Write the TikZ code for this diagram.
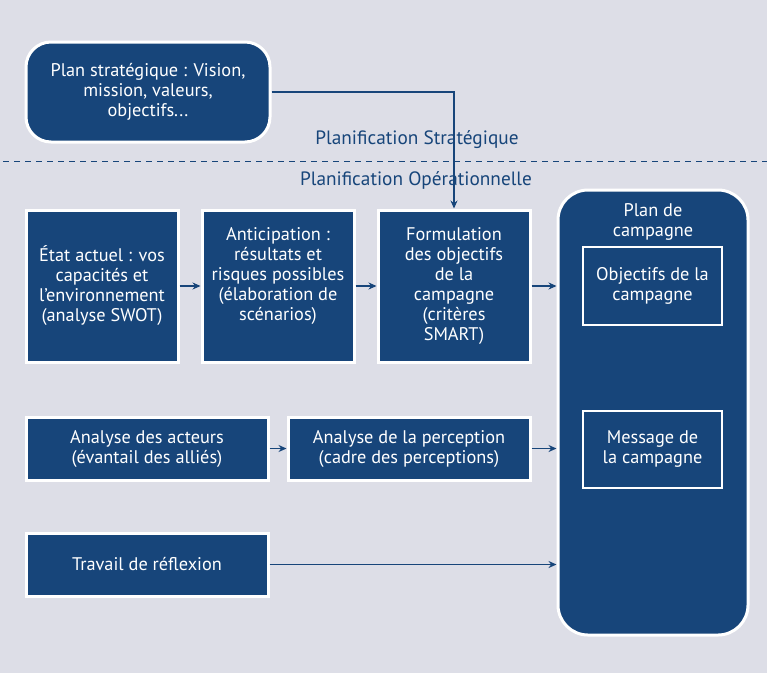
\documentclass[tikz,border=0pt]{standalone}
\usepackage{fontspec}
\setmainfont{PT Sans}
\usetikzlibrary{positioning,arrows.meta}

\definecolor{navycol}{RGB}{23,69,122}
\definecolor{backcol}{RGB}{221,222,231}

\tikzset{
  boxstyle/.style={draw=white, line width=3pt, fill=navycol, text=white, align=center,
    inner sep=2pt, font=\fontsize{18.3}{20}\selectfont},
  innerbox/.style={boxstyle, line width=2pt},
  zonetext/.style={text=navycol, font=\fontsize{19.3}{20}\selectfont},
  link/.style={draw=navycol, line width=1.4pt, -{Stealth[length=8pt,width=7pt]}}
}

\begin{document}
\begin{tikzpicture}[x=1pt,y=-1pt]
\useasboundingbox (0,0) rectangle (767,673);
\fill[backcol] (0,0) rectangle (767,673);

% strategic level
\node[boxstyle, rounded corners=25pt, minimum width=244pt, minimum height=100pt] (strat) at (148,92)
  {Plan stratégique : Vision,\\ mission, valeurs,\\ objectifs...};
\node[zonetext] (stratlabel) at (417,140) {Planification Stratégique};
\coordinate (dashL) at (3,161);
\coordinate (dashR) at (767,161);
\draw[navycol, line width=1pt, dash pattern=on 6pt off 5pt] (dashL) -- (dashR);
\node[zonetext] (operlabel) at (416,180) {Planification Opérationnelle};

% campaign plan
\node[boxstyle, rounded corners=30pt, minimum width=190pt, minimum height=445pt] (plan) at (653,412.5) {};
\node[text=white, align=center, font=\fontsize{18.3}{20}\selectfont] (plantitle) at (653,222) {Plan de\\ campagne};
\node[innerbox, minimum width=139pt, minimum height=78pt] (objectifs) at (652.5,286) {Objectifs de la\\ campagne};
\node[innerbox, minimum width=139pt, minimum height=77pt] (message) at (652.5,449.5) {Message de\\ la campagne};

% first row
\node[boxstyle, minimum width=152pt, minimum height=152pt] (etat) at (102,286)
  {État actuel : vos\\ capacités et\\ l'environnement\\ (analyse SWOT)};
\node[boxstyle, minimum width=152pt, minimum height=152pt, text depth=25pt] (antic) at (278,286)
  {Anticipation :\\ résultats et\\ risques possibles\\ (élaboration de\\ scénarios)};
\node[boxstyle, minimum width=152pt, minimum height=152pt] (formul) at (454,286)
  {Formulation\\ des objectifs\\ de la\\ campagne\\ (critères\\ SMART)};

% second and third rows
\node[boxstyle, minimum width=242pt, minimum height=63pt] (acteurs) at (147,448.5)
  {Analyse des acteurs\\ (évantail des alliés)};
\node[boxstyle, minimum width=242pt, minimum height=63pt] (percep) at (409,448.5)
  {Analyse de la perception\\ (cadre des perceptions)};
\node[boxstyle, minimum width=242pt, minimum height=63pt] (reflex) at (147,564.5)
  {Travail de réflexion};

% connectors
\draw[link] (strat.east) -| (formul.north);
\draw[link] (etat) -- (antic);
\draw[link] (antic) -- (formul);
\draw[link] (formul.east) -- (formul.east -| plan.west);
\draw[link] (acteurs) -- (percep);
\draw[link] (percep.east) -- (percep.east -| plan.west);
\draw[link] (reflex.east) -- (reflex.east -| plan.west);
\end{tikzpicture}
\end{document}
